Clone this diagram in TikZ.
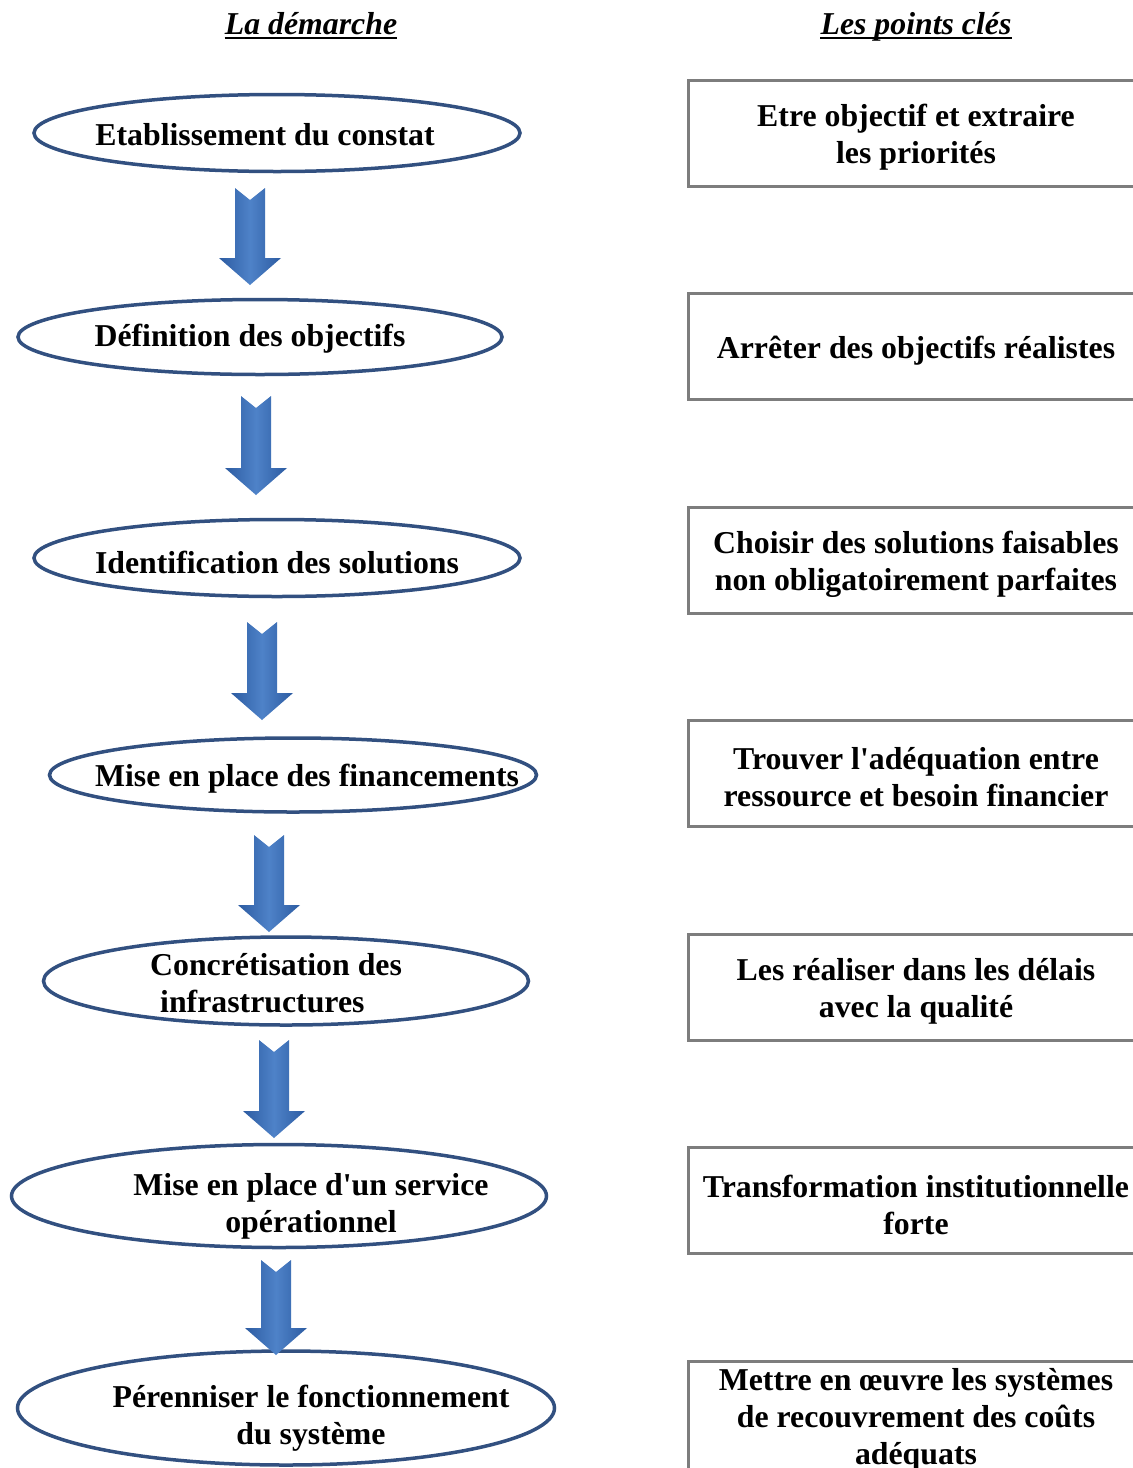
\documentclass[tikz,border=0pt]{standalone}
\usepackage{fontspec}
\setmainfont{Liberation Serif}[Ligatures=TeXOff]
\usetikzlibrary{shapes.geometric}
\definecolor{ellblue}{RGB}{50,80,128}
\definecolor{arrblue}{RGB}{78,130,200}
\definecolor{arrdark}{RGB}{45,92,162}
\definecolor{boxgray}{RGB}{125,125,125}
\tikzset{
  ell/.style={ellipse, draw=ellblue, line width=3.5pt, inner sep=0pt},
  txt/.style={font=\fontsize{31.8}{37}\selectfont\bfseries, inner sep=0pt, align=center},
  kbox/.style={rectangle, draw=boxgray, line width=3pt, minimum width=456pt,
    minimum height=106pt, inner sep=0pt},
  head/.style={font=\fontsize{31.8}{37}\selectfont\bfseries\itshape, inner sep=0pt, anchor=base},
  barrow/.style={left color=arrdark, right color=arrdark, middle color=arrblue}
}
\newcommand{\blockarr}[3]{%
  \path[barrow] (#1-15,#2) -- (#1,#2+12) -- (#1+15,#2) -- (#1+15,#3-27)
    -- (#1+31,#3-27) -- (#1,#3) -- (#1-31,#3-27) -- (#1-15,#3-27) -- cycle;}
\begin{document}
\begin{tikzpicture}[x=1pt,y=-1pt]
\useasboundingbox (0,0) rectangle (1133,1468);
\clip (0,0) rectangle (1133,1468);
\fill[white] (0,0) rectangle (1133,1468);

% headers
\node[head] (h1) at (311,34) {La démarche};
\draw[line width=2pt] ([yshift=-4pt]h1.base west) -- ([yshift=-4pt]h1.base east);
\node[head] (h2) at (916,34) {Les points clés};
\draw[line width=2pt] ([yshift=-4pt]h2.base west) -- ([yshift=-4pt]h2.base east);

% ellipses
\node[ell, minimum width=486pt, minimum height=77pt] (e1) at (277,133) {};
\node[txt] (t1) at (265,135) {Etablissement du constat};
\node[ell, minimum width=484pt, minimum height=75pt] (e2) at (260,337) {};
\node[txt] (t2) at (250,339) {Définition des objectifs};
\node[ell, minimum width=486pt, minimum height=77pt] (e3) at (277,558) {};
\node[txt] (t3) at (277,562) {Identification des solutions};
\node[ell, minimum width=487pt, minimum height=74pt] (e4) at (293,775) {};
\node[txt] (t4) at (307,779) {Mise en place des financements};
\node[ell, minimum width=485pt, minimum height=88pt] (e5) at (286,981) {};
\node[txt, align=left, anchor=west] (t5) at (150,983) {Concrétisation des\\\hspace*{10pt}infrastructures};
\node[ell, minimum width=535pt, minimum height=103pt] (e6) at (279,1196) {};
\node[txt] (t6) at (311,1206) {Mise en place d'un service\\opérationnel};
\node[ell, minimum width=537pt, minimum height=114pt] (e7) at (286,1408) {};
\node[txt] (t7) at (311,1418) {Pérenniser le fonctionnement\\du système};

% block arrows
\blockarr{250}{188}{285}
\blockarr{256}{396}{495}
\blockarr{262}{622}{720}
\blockarr{269}{835}{932}
\blockarr{274}{1040}{1138}
\blockarr{276}{1260}{1355}

% key point boxes
\node[kbox] (b1) at (916,133) {};
\node[txt] (k1) at ([yshift=-4pt]b1.center) {Etre objectif et extraire\\les priorités};
\node[kbox] (b2) at (916,346.5) {};
\node[txt] (k2) at ([yshift=-4pt]b2.center) {Arrêter des objectifs réalistes};
\node[kbox] (b3) at (916,560) {};
\node[txt] (k3) at ([yshift=-4pt]b3.center) {Choisir des solutions faisables\\non obligatoirement parfaites};
\node[kbox] (b4) at (916,773.5) {};
\node[txt] (k4) at ([yshift=-4pt]b4.center) {Trouver l'adéquation entre\\ressource et besoin financier};
\node[kbox] (b5) at (916,987.5) {};
\node[txt] (k5) at ([yshift=-4pt]b5.center) {Les réaliser dans les délais\\avec la qualité};
\node[kbox] (b6) at (916,1200.5) {};
\node[txt] (k6) at ([yshift=-4pt]b6.center) {Transformation institutionnelle\\forte};
\node[kbox, minimum height=114pt] (b7) at (916,1418) {};
\node[txt] (k7) at ([yshift=-2pt]b7.center) {Mettre en œuvre les systèmes\\de recouvrement des coûts\\adéquats};
\end{tikzpicture}
\end{document}
